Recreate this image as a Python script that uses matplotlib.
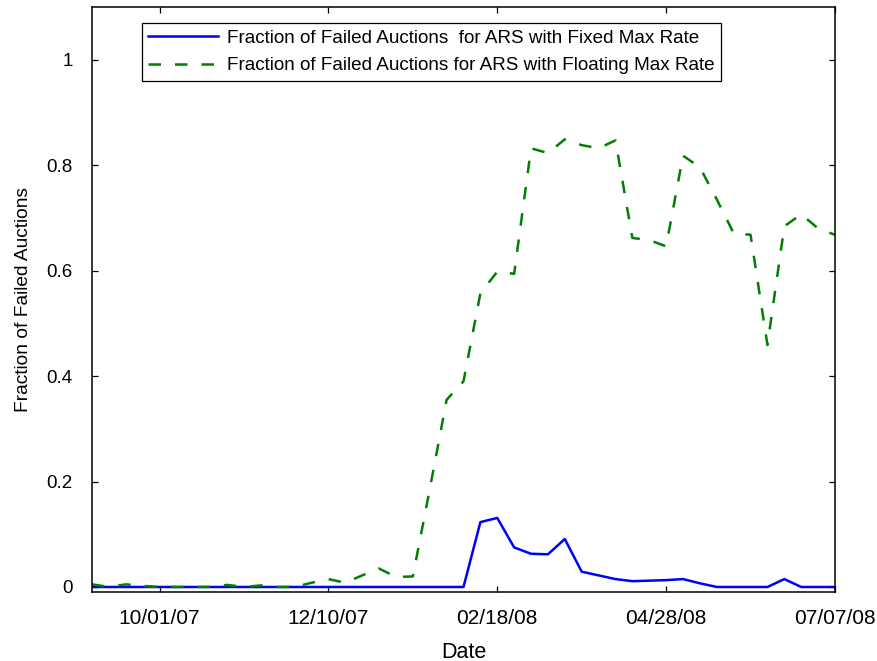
"""
plot.py
-------
Weekly fraction of failed auction-rate-security auctions,
fixed vs floating max rate (Sep 2007 - Jul 2008).
"""

import pandas as pd
import matplotlib
matplotlib.use("Agg")
import matplotlib.pyplot as plt
import matplotlib.dates as mdates

# ── Data (weekly auction dates) ─────────────
dates = pd.date_range("2007-09-03", "2008-07-07", freq="7D")

fixed_max = [
    0.0, 0.0, 0.0, 0.0, 0.0, 0.0, 0.0, 0.0, 0.0, 0.0,
    0.0, 0.0, 0.0, 0.0, 0.0, 0.0, 0.0, 0.0, 0.0, 0.0,
    0.0, 0.0, 0.0, 0.123, 0.131, 0.075, 0.063, 0.062, 0.091, 0.029,
    0.022, 0.015, 0.011, 0.012, 0.013, 0.015, 0.007, 0.0, 0.0, 0.0,
    0.0, 0.015, 0.0, 0.0, 0.0,
]

floating_max = [
    0.005, 0.0, 0.005, 0.002, 0.0, 0.0, 0.0, 0.0, 0.004, 0.0,
    0.003, 0.0, 0.0, 0.008, 0.015, 0.008, 0.022, 0.035, 0.019, 0.020,
    0.185, 0.355, 0.390, 0.557, 0.598, 0.594, 0.832, 0.823, 0.849, 0.838,
    0.832, 0.847, 0.662, 0.658, 0.646, 0.818, 0.796, 0.735, 0.671, 0.668,
    0.459, 0.684, 0.707, 0.680, 0.668,
]

tick_dates = ["2007-10-01", "2007-12-10", "2008-02-18", "2008-04-28", "2008-07-07"]
y_ticks = [0, 0.2, 0.4, 0.6, 0.8, 1]
y_tick_labels = ["0", "0.2", "0.4", "0.6", "0.8", "1"]

LABEL_FIXED = "Fraction of Failed Auctions  for ARS with Fixed Max Rate"
LABEL_FLOAT = "Fraction of Failed Auctions for ARS with Floating Max Rate"

plt.rcParams.update({
    "font.family": ["Liberation Sans", "DejaVu Sans"],
    "font.size": 13,
    "axes.linewidth": 1.1,
    "xtick.direction": "in",
    "ytick.direction": "in",
    "xtick.major.size": 4.5,
    "ytick.major.size": 4.5,
    "xtick.major.width": 0.9,
    "ytick.major.width": 0.9,
    "xtick.top": True,
    "ytick.right": True,
})

fig = plt.figure(figsize=(8.78, 6.61), dpi=100)
ax = fig.add_axes([0.1048, 0.1044, 0.8462, 0.885])

ax.plot(dates, fixed_max, color="#0000ff", lw=1.8, label=LABEL_FIXED)
ax.plot(dates, floating_max, color="#008000", lw=1.8,
        dashes=(5.0, 5.6), label=LABEL_FLOAT)

ax.set_xlim(dates[0], dates[-1])
ax.set_ylim(-0.0095, 1.1)
ax.set_xticks(pd.to_datetime(tick_dates))
ax.xaxis.set_major_formatter(mdates.DateFormatter("%m/%d/%y"))
ax.set_yticks(y_ticks)
ax.set_yticklabels(y_tick_labels)
ax.tick_params(axis="x", pad=12, labelsize=15)
ax.tick_params(axis="y", pad=14, labelsize=13.5)

ax.set_xlabel("Date", fontsize=15.5, labelpad=10)
ax.set_ylabel("Fraction of Failed Auctions", fontsize=13.8, labelpad=10)

leg = ax.legend(loc="upper left", bbox_to_anchor=(0.067, 0.973),
                borderaxespad=0, fancybox=False, framealpha=1,
                edgecolor="black", handlelength=3.7, fontsize=13.6,
                labelspacing=0.55, borderpad=0.35, handletextpad=0.45)
leg.get_frame().set_linewidth(0.9)

fig.savefig("out.png", dpi=100)
